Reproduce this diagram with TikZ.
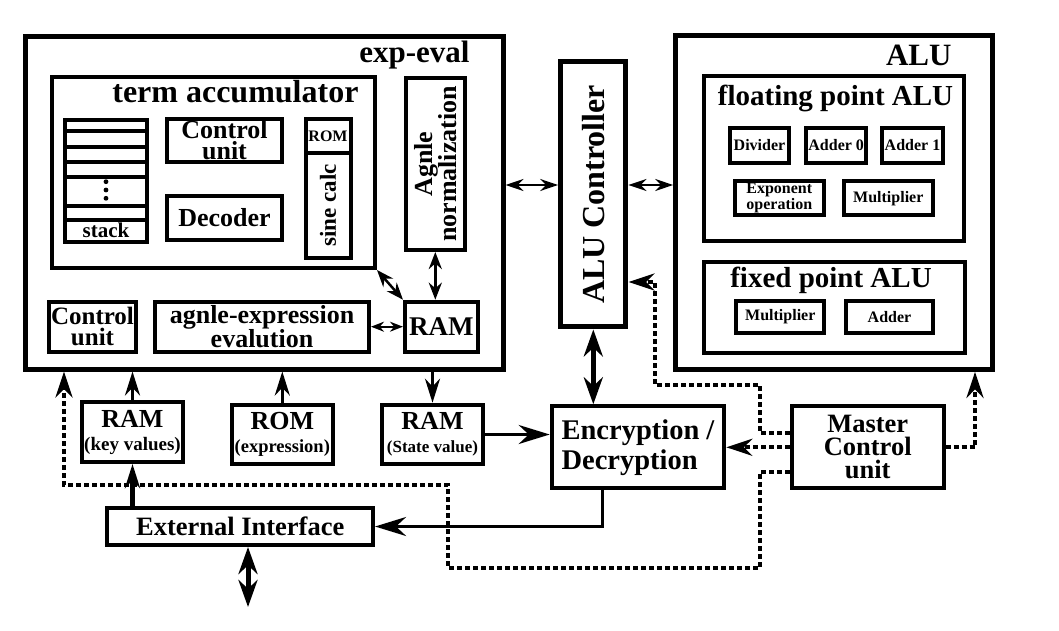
\documentclass[tikz,border=0pt]{standalone}
\usepackage{fontspec}
\setmainfont{Liberation Serif}
\usetikzlibrary{arrows.meta}

\newcommand{\fsz}[2]{\fontsize{#1}{#2}\selectfont\bfseries}

\tikzset{
  sz/.style 2 args={minimum width=#1pt, minimum height=#2pt},
  blk/.style={draw, line width=4pt, inner sep=0pt, align=center},
  bigblk/.style={draw, line width=5pt, inner sep=0pt},
  shortbus/.style={line width=2pt, arrows={Stealth[length=13pt,width=10pt]-Stealth[length=13pt,width=10pt]}},
  thinbus/.style={line width=2pt, arrows={Stealth[length=18pt,width=12pt]-Stealth[length=18pt,width=12pt]}},
  bus/.style={line width=3.5pt, arrows={Stealth[length=17pt,width=13pt]-Stealth[length=17pt,width=13pt]}},
  widebus/.style={line width=5pt, arrows={Stealth[length=27pt,width=19pt]-Stealth[length=27pt,width=19pt]}},
  feed/.style={line width=3pt, arrows={-Stealth[length=24pt,width=15pt]}},
  bigfeed/.style={line width=3pt, arrows={-Stealth[length=31pt,width=19pt]}},
  ctrlsig/.style={line width=4pt, dash pattern=on 5pt off 3pt, arrows={-Stealth[length=26pt,width=17pt]}}
}

\begin{document}
\begin{tikzpicture}[x=1pt, y=-1pt]
  \useasboundingbox (0,0) rectangle (1059,631);

  % exp-eval block
  \node[bigblk, sz={478}{332}] (expeval) at (264,203) {};
  \node[anchor=base east, font=\fsz{31}{31}] (expevaltitle) at (473,63) {exp-eval};

  \node[blk, sz={323}{191}] (termacc) at (213.5,172.5) {};
  \node[anchor=base east, font=\fsz{32}{32}] (termacctitle) at (362,103) {term accumulator};

  \node[blk, sz={82}{122}] (stack) at (106,181) {};
  \foreach \y in {131.3,146.7,161.7,176.7,206,220.3}
    \draw[line width=4pt] (stack.west |- 0,\y) -- (stack.east |- 0,\y);
  \foreach \y in {181.7,190,198.3}
    \fill (106,\y) circle[radius=2.4pt];
  \node[anchor=base, font=\fsz{21}{21}] (stacklabel) at (106,237) {stack};

  \node[blk, sz={115}{43}, font=\fsz{26}{21}] (ctrlin) at (224.5,140.5) {Control\\unit};
  \node[blk, sz={115}{44}, font=\fsz{26}{26}] (decoder) at (224.5,218) {Decoder};
  \node[blk, sz={45}{34.5}, font=\fsz{16}{16}] (romin) at (328,136.2) {ROM};
  \node[blk, sz={45}{104}] (sinecalc) at (328,205.5) {};
  \node[rotate=90, font=\fsz{23}{23}] (sinecalctext) at (sinecalc) {sine calc};

  \node[blk, sz={59.3}{172}] (anorm) at (435.3,164) {};
  \node[rotate=90, align=center, font=\fsz{26}{24}] (anormtext) at (anorm) {Agnle\\normalization};

  \node[blk, sz={87}{50}, font=\fsz{25}{21}] (ctrlout) at (92.5,326.7) {Control\\unit};
  \node[blk, sz={214}{50}, font=\fsz{26}{23}] (angexpr) at (262,326.7) {agnle-expression\\evalution};
  \node[blk, sz={72.7}{50}, font=\fsz{27}{27}] (ramin) at (441.3,326.7) {RAM};

  % ALU controller
  \node[bigblk, sz={65.3}{265.3}] (aluctrl) at (593.3,194.3) {};
  \node[rotate=90, font=\fsz{32}{32}] (aluctrltext) at (aluctrl) {ALU Controller};

  % ALU block
  \node[bigblk, sz={317}{334.3}] (alu) at (834.2,202.2) {};
  \node[anchor=base east, font=\fsz{31}{31}] (alutitle) at (955,66) {ALU};

  \node[blk, sz={260.3}{165.3}] (fpalu) at (834.2,158.3) {};
  \node[anchor=base, font=\fsz{29}{29}] (fpalutitle) at (835.5,106) {floating point ALU};
  \node[blk, sz={59.6}{34.4}, font=\fsz{16}{16}] (divider) at (759.5,145.5) {Divider};
  \node[blk, sz={59.7}{34.4}, font=\fsz{16}{16}] (adderzero) at (836.2,145.5) {Adder 0};
  \node[blk, sz={60.4}{34.4}, font=\fsz{16}{16}] (adderone) at (912.5,145.5) {Adder 1};
  \node[blk, sz={88.7}{33.7}, font=\fsz{16}{14}] (expop) at (779.3,198.2) {Exponent\\operation};
  \node[blk, sz={88.7}{33.7}, font=\fsz{16}{16}] (fpmult) at (888.3,198.2) {Multiplier};

  \node[blk, sz={261.3}{91}] (fxalu) at (834.7,307.2) {};
  \node[anchor=base, font=\fsz{29}{29}] (fxalutitle) at (831,287) {fixed point ALU};
  \node[blk, sz={88}{32}, font=\fsz{16}{16}] (fxmult) at (780.3,316.7) {Multiplier};
  \node[blk, sz={87.6}{32}, font=\fsz{16}{16}] (fxadder) at (889.5,316.7) {Adder};

  % memories and I/O
  \node[blk, sz={101.6}{59.7}, font=\fsz{26}{23}] (ramkey) at (132.5,432.2) {RAM\\\fontsize{19}{23}\selectfont (key values)};
  \node[blk, sz={101.3}{59.6}, font=\fsz{26}{23}] (romexp) at (282.3,434.5) {ROM\\\fontsize{18.5}{23}\selectfont (expression)};
  \node[blk, sz={101.6}{59.6}, font=\fsz{26}{23}] (ramst) at (432.5,434.5) {RAM\\\fontsize{17}{23}\selectfont (State value)};
  \node[blk, sz={265.7}{37}, font=\fsz{26.5}{26.5}] (ext) at (240.2,526.5) {External Interface};
  \node[blk, sz={172.6}{82}, align=left, font=\fsz{28.5}{30}] (encdec) at (638,447.3) {Encryption /\\Decryption};
  \node[blk, sz={152}{82}, font=\fsz{26.5}{23}] (master) at (867.7,447.3) {Master\\Control\\unit};
  \coordinate (extio) at (248,607);

  % data paths
  \draw[bus, line width=2.5pt] (termacc.south east) -- (ramin.north west);
  \draw[bus] (anorm.south) -- (anorm.south |- ramin.north);
  \draw[shortbus] (angexpr.east) -- (ramin.west);
  \draw[thinbus] (expeval.east |- 0,185) -- (aluctrl.west |- 0,185);
  \draw[thinbus] (aluctrl.east |- 0,185) -- (alu.west |- 0,185);
  \draw[widebus] (aluctrl.south) -- (aluctrl.south |- encdec.north);
  \draw[feed] (ramkey.north) -- (ramkey.north |- expeval.south);
  \draw[feed] (romexp.north) -- (romexp.north |- expeval.south);
  \draw[feed] (expeval.south -| ramst.north) -- (ramst.north);
  \draw[bigfeed] (ramst.east) -- (ramst.east -| encdec.west);
  \draw[feed, line width=5pt] (ext.north -| ramkey.south) -- (ramkey.south);
  \draw[widebus] (extio |- ext.south) -- (extio);
  \draw[bigfeed] ([xshift=-36pt]encdec.south) |- (ext.east);

  % control signals
  \draw[ctrlsig] (master.west |- 0,433) -- (760,433) -- (760,385) -- (655,385) -- (655,282) -- (aluctrl.east |- 0,282);
  \draw[ctrlsig] (master.west) -- (encdec.east);
  \draw[ctrlsig] (master.west |- 0,472) -- (760,472) -- (760,568) -- (448,568) -- (448,485) -- (64,485) -- (64,0 |- expeval.south);
  \draw[ctrlsig] (master.east) -| (975,0 |- alu.south);
\end{tikzpicture}
\end{document}
